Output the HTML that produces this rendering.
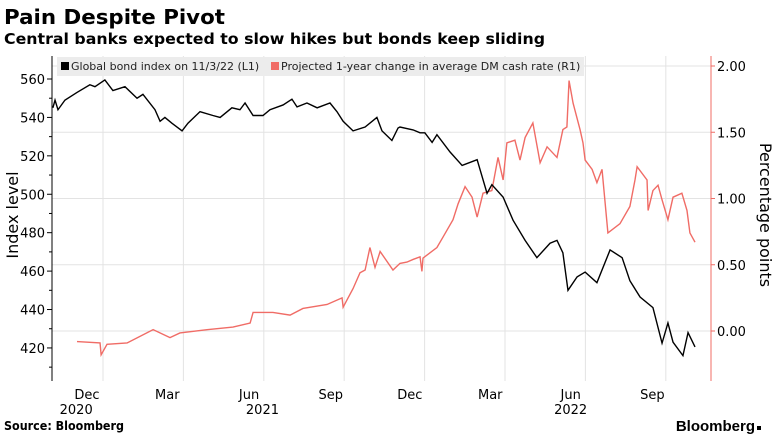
<!DOCTYPE html>
<html><head><meta charset="utf-8"><style>
body{margin:0;background:#fff;width:775px;height:435px;overflow:hidden;font-family:"Liberation Sans",sans-serif}
svg text{font-family:"DejaVu Sans","Liberation Sans",sans-serif}
</style></head><body>
<svg id="c" width="775" height="435">
<text x="4" y="24" font-size="20" font-weight="bold" fill="#000" textLength="221" lengthAdjust="spacingAndGlyphs">Pain Despite Pivot</text>
<text x="4" y="44" font-size="15" font-weight="bold" fill="#000" textLength="541" lengthAdjust="spacingAndGlyphs">Central banks expected to slow hikes but bonds keep sliding</text>
<g id="grid"></g><g id="axes"></g><g id="series"></g>
<g>
<rect x="57" y="57" width="527" height="19" fill="#ececec"/>
<rect x="61" y="62" width="8" height="8" fill="#000"/>
<text x="71" y="70" font-size="11" fill="#222">Global bond index on 11/3/22 (L1)</text>
<rect x="271" y="62" width="8" height="8" fill="#f06c66"/>
<text x="281" y="70" font-size="11" fill="#222">Projected 1-year change in average DM cash rate (R1)</text>
</g>
<text transform="translate(18,215) rotate(-90)" text-anchor="middle" font-size="16" fill="#000">Index level</text>
<text transform="translate(760,215) rotate(90)" text-anchor="middle" font-size="16" fill="#000">Percentage points</text>
<text x="4" y="430" font-size="12" font-weight="bold" fill="#000" textLength="120" lengthAdjust="spacingAndGlyphs">Source: Bloomberg</text>
<text x="755" y="431" text-anchor="end" font-size="15" font-weight="bold" fill="#000" style="font-family:'Liberation Sans',sans-serif">Bloomberg</text>
<rect x="757" y="426" width="4" height="4" fill="#000"/>
</svg>
<script>
const leftTicks=[560,540,520,500,480,460,440,420];
const rightTicks=[2.00,1.50,1.00,0.50,0.00];
const monthLabels=["Dec","Mar","Jun","Sep","Dec","Mar","Jun","Sep"];
const monthLabelPos=[-0.6,2.4,5.45,8.5,11.45,14.45,17.45,20.5];
const yearLabels=["2020","2021","2022"];
const yearLabelPos=[-1.0,5.95,17.45];
const gridMonths=[0,3,6,9,12,15,18,21];
const bondMonths=[-1.87,-1.79,-1.68,-1.42,-0.97,-0.49,-0.3,0.07,0.37,0.82,1.27,1.49,1.94,2.13,2.31,2.57,2.95,3.17,3.62,4.1,4.37,4.81,5.11,5.3,5.6,5.97,6.23,6.72,7.05,7.24,7.61,7.99,8.47,8.73,8.96,9.33,9.78,10.22,10.41,10.78,11.01,11.08,11.57,11.83,12.01,12.28,12.46,12.95,13.4,13.96,14.33,14.51,14.93,15.3,15.75,16.19,16.68,16.94,17.16,17.35,17.69,17.99,18.43,18.92,19.37,19.66,20.04,20.52,20.86,21.08,21.27,21.64,21.83,22.09];
const bondValues=[545,549,544,549,553,557,556,559.5,554,556,550,552,544,538,540,537,533,537,543,541,540,545,544,547.5,541,541,544,546.5,549.5,545.5,547.5,545,547.5,543,538,533,535,540,533,528,534.5,535,533.5,532,532,527,531,522,515,518,500.5,505,498.5,486.5,476,467,474.5,476,469.5,450,457,459.5,454,471,467,455,446.5,441,422.5,433,423,416,428,420.5];
const rateMonths=[-0.97,-0.11,-0.07,0.15,0.9,1.87,2.5,2.87,3.88,4.85,5.49,5.6,6.34,6.98,7.46,8.36,8.92,8.96,9.33,9.59,9.78,9.96,10.15,10.34,10.82,11.08,11.34,11.57,11.83,11.9,11.94,12.46,12.69,13.06,13.25,13.51,13.77,13.96,14.18,14.51,14.74,14.93,15.07,15.37,15.56,15.75,16.04,16.31,16.57,16.94,17.16,17.31,17.39,17.54,17.8,17.91,17.99,18.25,18.43,18.62,18.84,19.29,19.66,19.85,19.93,20.3,20.34,20.52,20.71,20.86,21.08,21.27,21.6,21.79,21.9,22.09];
const rateValues=[-0.08,-0.09,-0.18,-0.1,-0.09,0.01,-0.05,-0.015,0.01,0.03,0.06,0.14,0.14,0.12,0.17,0.2,0.25,0.18,0.32,0.44,0.46,0.63,0.48,0.6,0.46,0.51,0.52,0.54,0.56,0.45,0.55,0.63,0.71,0.84,0.96,1.09,1.01,0.86,1.04,1.06,1.31,1.14,1.42,1.44,1.29,1.46,1.57,1.27,1.39,1.31,1.52,1.54,1.89,1.72,1.52,1.42,1.29,1.22,1.12,1.22,0.74,0.81,0.94,1.14,1.24,1.14,0.91,1.06,1.1,0.99,0.84,1.01,1.04,0.91,0.74,0.67];
const NS="http://www.w3.org/2000/svg";
const X=m=>103+m*26.8;
const YL=v=>79+(560-v)*1.921;
const YR=v=>66+(2-v)*132.5;
const PT=56,PB=381,PL=52,PR=711;
function mk(tag,attrs,parent){const e=document.createElementNS(NS,tag);for(const k in attrs)e.setAttribute(k,attrs[k]);document.getElementById(parent).appendChild(e);return e;}
rightTicks.forEach(v=>{
 const g=mk('line',{x1:PL,x2:PR,y1:YR(v),y2:YR(v),stroke:'#e3e3e3','stroke-width':1},'grid');
 
 
 const t=mk('line',{x1:PR,x2:PR+4,y1:YR(v),y2:YR(v),stroke:'#f06c66'},'axes');
 
 
 const l=mk('text',{x:PR+6,y:YR(v)+5,'font-size':13,fill:'#000'},'axes');l.textContent=v.toFixed(2);
 
 
});
gridMonths.forEach(m=>{
 const g=mk('line',{x1:X(m),x2:X(m),y1:PT,y2:PB,stroke:'#e3e3e3'},'grid');
 
 
});
leftTicks.forEach(v=>{
 const t=mk('line',{x1:PL-5,x2:PL,y1:YL(v),y2:YL(v),stroke:'#000'},'axes');
 
 
 const mt=mk('line',{x1:PL-3,x2:PL,y1:YL(v-10),y2:YL(v-10),stroke:'#000'},'axes');
 
 
 const l=mk('text',{x:PL-7,y:YL(v)+5,'font-size':13,'text-anchor':'end',fill:'#000'},'axes');l.textContent=v;
 
 
});
const la=mk('line',{x1:PL,x2:PL,y1:PT,y2:PB,stroke:'#000'},'axes');


const ra=mk('line',{x1:PR,x2:PR,y1:PT,y2:PB,stroke:'#f06c66'},'axes');


monthLabels.forEach((s,i)=>{
 const l=mk('text',{x:X(monthLabelPos[i]),y:399,'font-size':13,'text-anchor':'middle',fill:'#000'},'axes');l.textContent=s;
 
 
});
yearLabels.forEach((s,i)=>{
 const l=mk('text',{x:X(yearLabelPos[i]),y:414,'font-size':13,'text-anchor':'middle',fill:'#000'},'axes');l.textContent=s;
 
 
});
const rp=mk('polyline',{points:rateMonths.map((m,i)=>X(m)+','+YR(rateValues[i])).join(' '),fill:'none',stroke:'#f06c66','stroke-width':1.4},'series');


const bp=mk('polyline',{points:bondMonths.map((m,i)=>X(m)+','+YL(bondValues[i])).join(' '),fill:'none',stroke:'#000','stroke-width':1.4},'series');


</script>
</body></html>
